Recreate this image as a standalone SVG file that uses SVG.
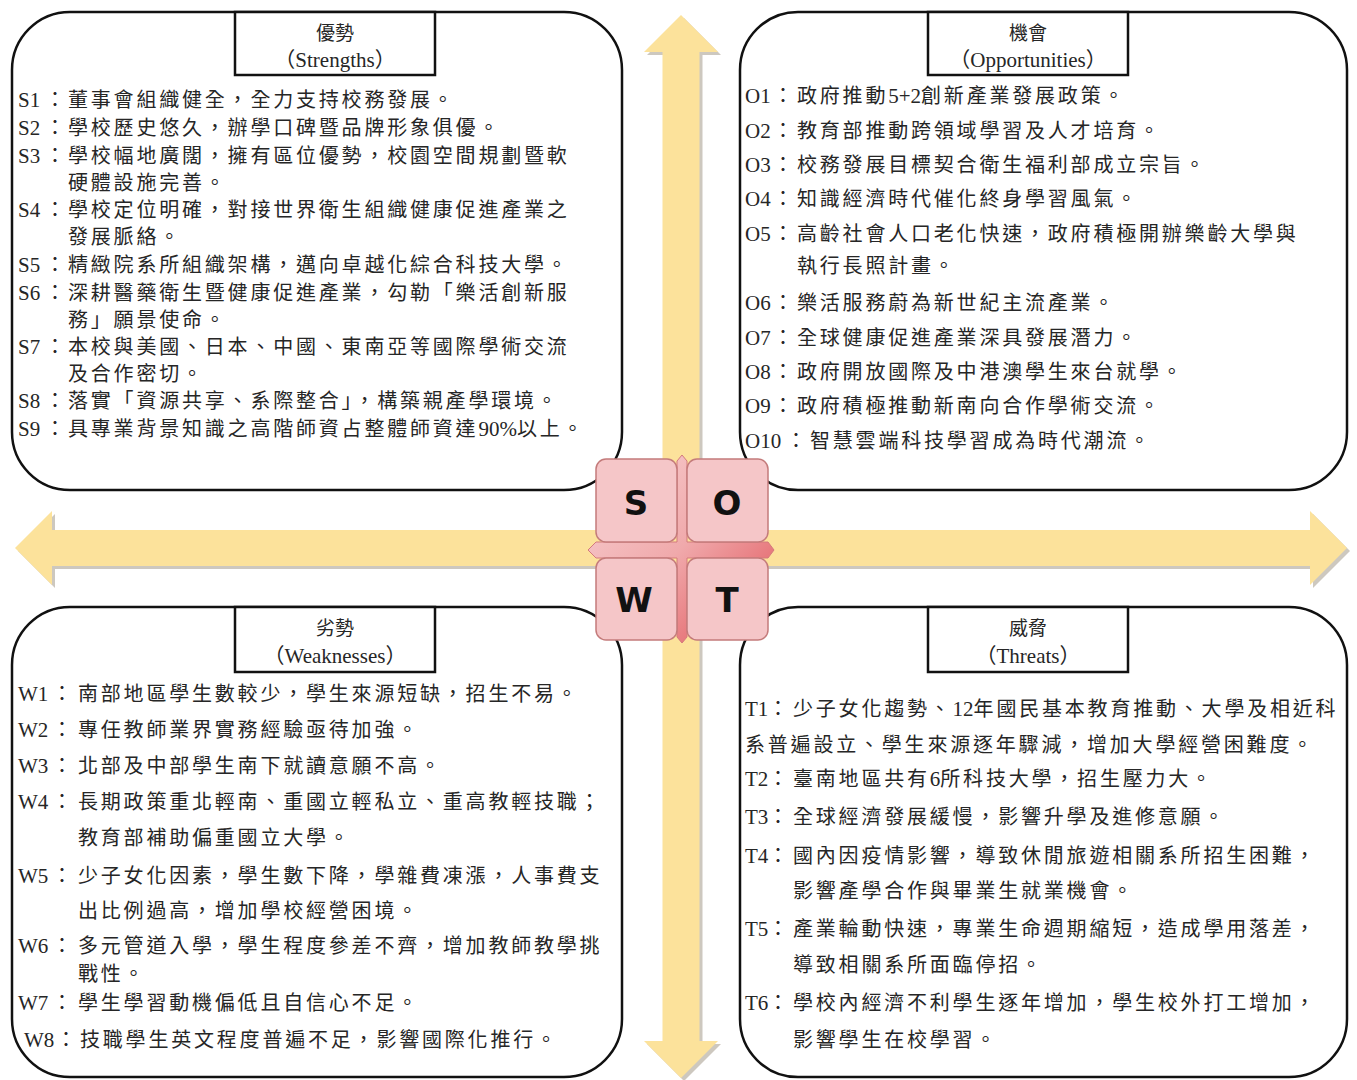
<svg xmlns="http://www.w3.org/2000/svg" width="1357" height="1080" viewBox="0 0 1357 1080">
<defs>
<style>
.box{fill:#fff;stroke:#111;stroke-width:2.5}
.tb{fill:#fff;stroke:#111;stroke-width:2.5}
.t{font-family:"Noto Sans CJK TC","Noto Sans CJK SC",sans-serif;font-size:20px;letter-spacing:2.8px;fill:#262626}
.l{font-family:"Liberation Serif",serif;font-size:21px;letter-spacing:0px}
.h{font-family:"Noto Sans CJK TC",sans-serif;font-size:19px;fill:#262626;text-anchor:middle}
.he{font-family:"Liberation Serif","Noto Sans CJK TC",serif;font-size:21px;fill:#262626;text-anchor:middle}
.arrow{fill:#fce29b}
.shadow{fill:#cdc8bf}
.sq{fill:#f5c6c8;stroke:#c47b7b;stroke-width:1.5}
.let{font-family:"DejaVu Sans",sans-serif;font-weight:bold;font-size:34px;fill:#111;text-anchor:middle}
</style>
<linearGradient id="crossg" x1="0" y1="0" x2="1" y2="1">
<stop offset="0" stop-color="#f8d4d5"/>
<stop offset="0.5" stop-color="#f0a9ab"/>
<stop offset="1" stop-color="#df4c52"/>
</linearGradient>
</defs>
<rect width="1357" height="1080" fill="#fff"/>

<g id="connectors">
<path class="shadow" transform="translate(3,3)" d="M681,15 L718,52 L699.5,52 L699.5,1041 L718,1041 L681,1078 L644,1041 L662.5,1041 L662.5,52 L644,52 Z"/>
<path class="shadow" transform="translate(3,3)" d="M15,548 L52,511 L52,530 L1310,530 L1310,511 L1347,548 L1310,585 L1310,566 L52,566 L52,585 Z"/>
<path class="arrow" d="M681,15 L718,52 L699.5,52 L699.5,1041 L718,1041 L681,1078 L644,1041 L662.5,1041 L662.5,52 L644,52 Z"/>
<path class="arrow" d="M15,548 L52,511 L52,530 L1310,530 L1310,511 L1347,548 L1310,585 L1310,566 L52,566 L52,585 Z"/>
</g>

<g id="strengths">
<rect class="box" x="12" y="12" width="610" height="478" rx="58" ry="58"/>
<rect class="tb" x="235" y="12" width="200" height="63"/>
<text class="h" x="335" y="40">優勢</text>
<text class="he" x="335" y="67">（Strengths）</text>
<text class="t" y="107"><tspan class="l" x="18">S1</tspan><tspan x="45">：</tspan><tspan x="68">董事會組織健全，全力支持校務發展。</tspan></text>
<text class="t" y="135"><tspan class="l" x="18">S2</tspan><tspan x="45">：</tspan><tspan x="68">學校歷史悠久，辦學口碑暨品牌形象俱優。</tspan></text>
<text class="t" y="163"><tspan class="l" x="18">S3</tspan><tspan x="45">：</tspan><tspan x="68">學校幅地廣闊，擁有區位優勢，校園空間規劃暨軟</tspan></text>
<text class="t" x="68" y="190">硬體設施完善。</text>
<text class="t" y="217"><tspan class="l" x="18">S4</tspan><tspan x="45">：</tspan><tspan x="68">學校定位明確，對接世界衛生組織健康促進產業之</tspan></text>
<text class="t" x="68" y="244">發展脈絡。</text>
<text class="t" y="272"><tspan class="l" x="18">S5</tspan><tspan x="45">：</tspan><tspan x="68">精緻院系所組織架構，邁向卓越化綜合科技大學。</tspan></text>
<text class="t" y="300"><tspan class="l" x="18">S6</tspan><tspan x="45">：</tspan><tspan x="68">深耕醫藥衛生暨健康促進產業，勾勒「樂活創新服</tspan></text>
<text class="t" x="68" y="327">務」願景使命。</text>
<text class="t" y="354"><tspan class="l" x="18">S7</tspan><tspan x="45">：</tspan><tspan x="68">本校與美國、日本、中國、東南亞等國際學術交流</tspan></text>
<text class="t" x="68" y="381">及合作密切。</text>
<text class="t" y="408"><tspan class="l" x="18">S8</tspan><tspan x="45">：</tspan><tspan x="68">落實「資源共享、系際整合」，構築親產學環境。</tspan></text>
<text class="t" y="436"><tspan class="l" x="18">S9</tspan><tspan x="45">：</tspan><tspan x="68">具專業背景知識之高階師資占整體師資達</tspan><tspan class="l">90%</tspan><tspan>以上。</tspan></text>
</g>

<g id="opportunities">
<rect class="box" x="740" y="12" width="607" height="478" rx="58" ry="58"/>
<rect class="tb" x="928" y="12" width="200" height="63"/>
<text class="h" x="1028" y="40">機會</text>
<text class="he" x="1028" y="67">（Opportunities）</text>
<text class="t" y="103"><tspan class="l" x="745">O1</tspan><tspan x="773">：</tspan><tspan x="797">政府推動</tspan><tspan class="l">5+2</tspan><tspan>創新產業發展政策。</tspan></text>
<text class="t" y="138"><tspan class="l" x="745">O2</tspan><tspan x="773">：</tspan><tspan x="797">教育部推動跨領域學習及人才培育。</tspan></text>
<text class="t" y="172"><tspan class="l" x="745">O3</tspan><tspan x="773">：</tspan><tspan x="797">校務發展目標契合衛生福利部成立宗旨。</tspan></text>
<text class="t" y="206"><tspan class="l" x="745">O4</tspan><tspan x="773">：</tspan><tspan x="797">知識經濟時代催化終身學習風氣。</tspan></text>
<text class="t" y="241"><tspan class="l" x="745">O5</tspan><tspan x="773">：</tspan><tspan x="797">高齡社會人口老化快速，政府積極開辦樂齡大學與</tspan></text>
<text class="t" x="797" y="273">執行長照計畫。</text>
<text class="t" y="310"><tspan class="l" x="745">O6</tspan><tspan x="773">：</tspan><tspan x="797">樂活服務蔚為新世紀主流產業。</tspan></text>
<text class="t" y="345"><tspan class="l" x="745">O7</tspan><tspan x="773">：</tspan><tspan x="797">全球健康促進產業深具發展潛力。</tspan></text>
<text class="t" y="379"><tspan class="l" x="745">O8</tspan><tspan x="773">：</tspan><tspan x="797">政府開放國際及中港澳學生來台就學。</tspan></text>
<text class="t" y="413"><tspan class="l" x="745">O9</tspan><tspan x="773">：</tspan><tspan x="797">政府積極推動新南向合作學術交流。</tspan></text>
<text class="t" y="448"><tspan class="l" x="745">O10</tspan><tspan x="786">：</tspan><tspan x="810">智慧雲端科技學習成為時代潮流。</tspan></text>
</g>

<g id="weaknesses">
<rect class="box" x="12" y="607" width="610" height="470" rx="58" ry="58"/>
<rect class="tb" x="235" y="607" width="200" height="65"/>
<text class="h" x="335" y="635">劣勢</text>
<text class="he" x="335" y="663">（Weaknesses）</text>
<text class="t" y="701"><tspan class="l" x="18">W1</tspan><tspan x="52">：</tspan><tspan x="78">南部地區學生數較少，學生來源短缺，招生不易。</tspan></text>
<text class="t" y="737"><tspan class="l" x="18">W2</tspan><tspan x="52">：</tspan><tspan x="78">專任教師業界實務經驗亟待加強。</tspan></text>
<text class="t" y="773"><tspan class="l" x="18">W3</tspan><tspan x="52">：</tspan><tspan x="78">北部及中部學生南下就讀意願不高。</tspan></text>
<text class="t" y="809"><tspan class="l" x="18">W4</tspan><tspan x="52">：</tspan><tspan x="78">長期政策重北輕南、重國立輕私立、重高教輕技職；</tspan></text>
<text class="t" x="78" y="845">教育部補助偏重國立大學。</text>
<text class="t" y="883"><tspan class="l" x="18">W5</tspan><tspan x="52">：</tspan><tspan x="78">少子女化因素，學生數下降，學雜費凍漲，人事費支</tspan></text>
<text class="t" x="78" y="918">出比例過高，增加學校經營困境。</text>
<text class="t" y="953"><tspan class="l" x="18">W6</tspan><tspan x="52">：</tspan><tspan x="78">多元管道入學，學生程度參差不齊，增加教師教學挑</tspan></text>
<text class="t" x="78" y="981">戰性。</text>
<text class="t" y="1010"><tspan class="l" x="18">W7</tspan><tspan x="52">：</tspan><tspan x="78">學生學習動機偏低且自信心不足。</tspan></text>
<text class="t" y="1047"><tspan class="l" x="24">W8</tspan><tspan x="56">：</tspan><tspan x="80">技職學生英文程度普遍不足，影響國際化推行。</tspan></text>
</g>

<g id="threats">
<rect class="box" x="740" y="607" width="607" height="470" rx="58" ry="58"/>
<rect class="tb" x="928" y="607" width="200" height="65"/>
<text class="h" x="1028" y="635">威脅</text>
<text class="he" x="1028" y="663">（Threats）</text>
<text class="t" y="716"><tspan class="l" x="745">T1</tspan><tspan x="768">：</tspan><tspan x="793">少子女化趨勢、</tspan><tspan class="l">12</tspan><tspan>年國民基本教育推動、大學及相近科</tspan></text>
<text class="t" x="745" y="752">系普遍設立、學生來源逐年驟減，增加大學經營困難度。</text>
<text class="t" y="786"><tspan class="l" x="745">T2</tspan><tspan x="768">：</tspan><tspan x="793">臺南地區共有</tspan><tspan class="l">6</tspan><tspan>所科技大學，招生壓力大。</tspan></text>
<text class="t" y="824"><tspan class="l" x="745">T3</tspan><tspan x="768">：</tspan><tspan x="793">全球經濟發展緩慢，影響升學及進修意願。</tspan></text>
<text class="t" y="863"><tspan class="l" x="745">T4</tspan><tspan x="768">：</tspan><tspan x="793">國內因疫情影響，導致休閒旅遊相關系所招生困難，</tspan></text>
<text class="t" x="793" y="898">影響產學合作與畢業生就業機會。</text>
<text class="t" y="936"><tspan class="l" x="745">T5</tspan><tspan x="768">：</tspan><tspan x="793">產業輪動快速，專業生命週期縮短，造成學用落差，</tspan></text>
<text class="t" x="793" y="972">導致相關系所面臨停招。</text>
<text class="t" y="1010"><tspan class="l" x="745">T6</tspan><tspan x="768">：</tspan><tspan x="793">學校內經濟不利學生逐年增加，學生校外打工增加，</tspan></text>
<text class="t" x="793" y="1047">影響學生在校學習。</text>
</g>

<g id="swot">
<path fill="url(#crossg)" stroke="#d47a7c" stroke-width="1" d="M682,455 L687,461 L687,542 L768,542 L774,550 L768,558 L687,558 L687,637 L682,643 L677,637 L677,558 L596,558 L588,550 L596,542 L677,542 L677,461 Z"/>
<g id="node-s"><rect class="sq" x="596" y="459" width="81" height="83" rx="10"/><text class="let" x="636" y="515">S</text></g>
<g id="node-o"><rect class="sq" x="687" y="459" width="81" height="83" rx="10"/><text class="let" x="727" y="515">O</text></g>
<g id="node-w"><rect class="sq" x="596" y="558" width="81" height="82" rx="10"/><text class="let" x="634" y="612">W</text></g>
<g id="node-t"><rect class="sq" x="687" y="558" width="81" height="82" rx="10"/><text class="let" x="727" y="612">T</text></g>
</g>
</svg>
